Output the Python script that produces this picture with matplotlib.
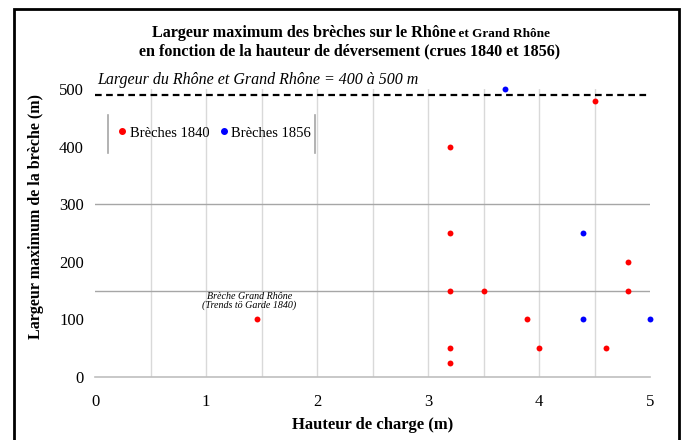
import matplotlib
matplotlib.use("Agg")
import matplotlib.pyplot as plt
from matplotlib.patches import Rectangle
from matplotlib.lines import Line2D

# Data
x_1840 = [1.46, 3.2, 3.2, 3.2, 3.2, 3.2, 3.5, 3.89, 4.0, 4.5, 4.6, 4.8, 4.8]
y_1840 = [100, 400, 250, 150, 50, 25, 150, 100, 50, 480, 50, 200, 150]
x_1856 = [3.69, 4.4, 4.4, 5.0]
y_1856 = [500, 250, 100, 100]
x_ticks = [0, 1, 2, 3, 4, 5]
y_ticks = [0, 100, 200, 300, 400, 500]
hgrid = [150, 300]
river_width = 490

plt.rcParams['font.family'] = ['Liberation Serif', 'DejaVu Serif']

fig = plt.figure(figsize=(6.86, 4.40), dpi=100)
ax = fig.add_axes([95/686, 1-377/440, 555/686, 288/440])

ax.set_xlim(0, 5)
ax.set_ylim(0, 500)

# vertical grid every 0.5
for xv in [0.5*i for i in range(1, 10)]:
    ax.axvline(xv, color='#d9d9d9', lw=1, zorder=0)
for yv in hgrid:
    ax.axhline(yv, color='#a6a6a6', lw=1, zorder=0)
ax.axhline(0, color='#bfbfbf', lw=1.2, zorder=1, clip_on=False)

ax.axhline(river_width, color='black', lw=1.6, ls=(0, (3, 2)), zorder=2)
ax.text(0.02, 502, 'Largeur du Rhône et Grand Rhône = 400 à 500 m',
        style='italic', fontsize=11.5, ha='left', va='bottom')

ax.scatter(x_1840, y_1840, s=18, color='#ff0000', zorder=3, clip_on=False, linewidths=0)
ax.scatter(x_1856, y_1856, s=18, color='#0000ff', zorder=3, clip_on=False, linewidths=0)

ax.text(1.39, 116, 'Brèche Grand Rhône\n(Trends tö Garde 1840)', style='italic',
        fontsize=7.2, ha='center', va='bottom', linespacing=1.0)

for s in ax.spines.values():
    s.set_visible(False)
ax.set_xticks(x_ticks)
ax.set_yticks(y_ticks)
ax.tick_params(axis='y', length=0, labelsize=12, pad=8)
ax.tick_params(axis='x', length=0, labelsize=12, pad=12)
ax.set_xlabel('Hauteur de charge (m)', fontsize=12, fontweight='bold', labelpad=5)
ax.set_ylabel('Largeur maximum de la brèche (m)', fontsize=11.5, fontweight='bold')
ax.yaxis.set_label_coords(-51/555, 0.559)

# legend
handles = [Line2D([], [], marker='o', ls='', color='#ff0000', markersize=4, label='Brèches 1840'),
           Line2D([], [], marker='o', ls='', color='#0000ff', markersize=4, label='Brèches 1856')]
leg = ax.legend(handles=handles, ncol=2, frameon=False, fontsize=10.5,
                loc='center', bbox_to_anchor=(213/686, 1-133/440), bbox_transform=fig.transFigure,
                handletextpad=0.0, columnspacing=0.5, handlelength=1.0)
for xpix in (108, 315):
    fig.add_artist(Line2D([xpix/686, xpix/686], [1-115/440, 1-153/440],
                          transform=fig.transFigure, color='#a6a6a6', lw=1.2))

# titles
fig.canvas.draw()
r = fig.canvas.get_renderer()
a = fig.text(0, 1-37/440, 'Largeur maximum des brèches sur le Rhône', fontsize=11.6,
             fontweight='bold', ha='left', va='baseline')
b = fig.text(0, 1-37/440, ' et Grand Rhône', fontsize=9.5, fontweight='bold', ha='left', va='baseline')
wa = a.get_window_extent(r).width
wb = b.get_window_extent(r).width
x0 = (351 - (wa+wb)/2)
a.set_x(x0/686)
b.set_x((x0+wa)/686)
fig.text(350/686, 1-55/440, 'en fonction de la hauteur de déversement (crues 1840 et 1856)',
         fontsize=11.6, fontweight='bold', ha='center', va='baseline')

fig.add_artist(Rectangle((14/686, -0.05), 665/686, 1.05 - 9/440, transform=fig.transFigure,
                         fill=False, edgecolor='black', lw=2, clip_on=False))

fig.savefig('out.png', dpi=100)
